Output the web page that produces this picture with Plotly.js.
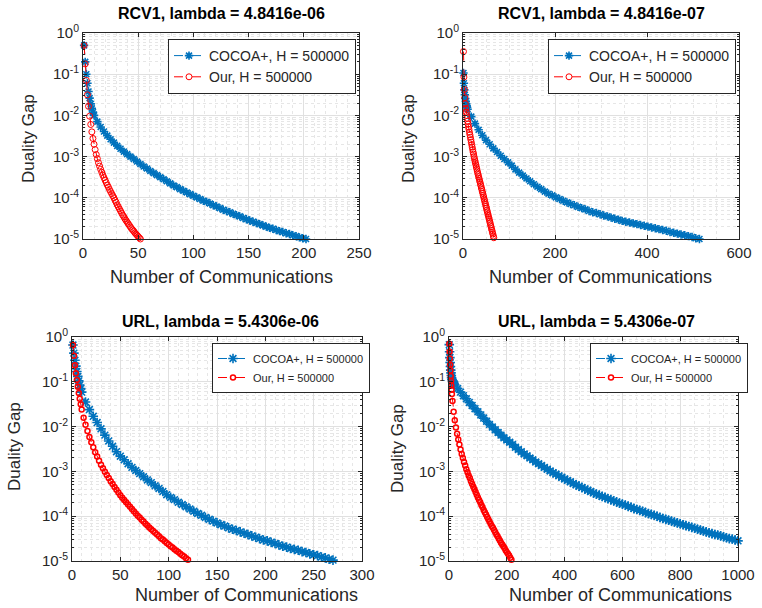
<!DOCTYPE html>
<html><head><meta charset="utf-8">
<script src="https://cdn.plot.ly/plotly-3.0.1.min.js"></script>
<style>html,body{margin:0;padding:0;background:#fff}#chart{width:762px;height:608px}</style>
</head><body><div id="chart"></div>
<script>
// helper: communication-round indices (the x grid the values were read on)
function seq(a, b, s) { const r = []; for (let v = a; v <= b + 1e-9; v += s) r.push(v); return r; }

// ---- Series names / titles ----
const seriesNames = ['COCOA+, H = 500000', 'Our, H = 500000'];
const panelTitles = ['RCV1, lambda = 4.8416e-06', 'RCV1, lambda = 4.8416e-07',
                     'URL, lambda = 5.4306e-06', 'URL, lambda = 5.4306e-07'];
const xTitle = 'Number of Communications';
const yTitle = 'Duality Gap';

// ---- Data: duality gap, stored as log10(gap) ----
// Panel 1: RCV1, lambda = 4.8416e-06
const rcv1a_cocoa_x = [...seq(1, 10, 1), ...seq(13, 202, 3)];
const rcv1a_cocoa_log10 = [-0.30,-0.70,-1.00,-1.22,-1.42,-1.58,-1.72,-1.83,-1.92,-2.00,
 -2.15,-2.28,-2.39,-2.49,-2.58,-2.66,-2.74,-2.81,-2.88,-2.94,-3.00,
 -3.06,-3.12,-3.18,-3.24,-3.29,-3.35,-3.40,-3.45,-3.50,-3.55,-3.60,-3.65,-3.70,-3.74,-3.79,-3.83,-3.87,-3.91,
 -3.95,-3.99,-4.03,-4.07,-4.10,-4.14,-4.18,-4.21,-4.25,-4.29,-4.32,-4.35,-4.39,-4.42,-4.45,-4.49,-4.52,-4.55,
 -4.58,-4.61,-4.64,-4.67,-4.70,-4.73,-4.75,-4.78,-4.81,-4.83,-4.86,-4.88,-4.91,-4.93,-4.96,-4.98,-5.00];
const rcv1a_our_x = seq(1, 52, 1);
const rcv1a_our_log10 = [-0.30,-0.75,-1.15,-1.50,-1.78,-2.02,-2.22,-2.40,-2.56,-2.70,
 -2.83,-2.95,-3.05,-3.15,-3.23,-3.31,-3.38,-3.45,-3.51,-3.57,
 -3.63,-3.69,-3.74,-3.80,-3.85,-3.90,-3.95,-4.00,-4.06,-4.11,
 -4.17,-4.22,-4.27,-4.32,-4.37,-4.42,-4.46,-4.51,-4.55,-4.59,
 -4.63,-4.67,-4.71,-4.75,-4.78,-4.81,-4.85,-4.88,-4.91,-4.94,
 -4.97,-5.00];

// Panel 2: RCV1, lambda = 4.8416e-07
const rcv1b_cocoa_x = [...seq(1, 10, 1), ...seq(18, 514, 8)];
const rcv1b_cocoa_log10 = [-0.97,-1.22,-1.38,-1.50,-1.59,-1.66,-1.72,-1.77,-1.81,-1.85,
 -2.03,-2.20,-2.35,-2.48,-2.60,-2.70,-2.80,-2.89,-2.98,-3.06,
 -3.14,-3.22,-3.31,-3.39,-3.46,-3.53,-3.60,-3.67,-3.73,-3.79,
 -3.85,-3.90,-3.94,-3.99,-4.03,-4.07,-4.11,-4.15,-4.18,-4.22,
 -4.25,-4.28,-4.32,-4.35,-4.37,-4.40,-4.43,-4.45,-4.48,-4.51,
 -4.53,-4.56,-4.58,-4.60,-4.62,-4.64,-4.66,-4.68,-4.70,-4.72,
 -4.74,-4.76,-4.78,-4.80,-4.83,-4.85,-4.87,-4.89,-4.91,-4.93,
 -4.95,-4.98,-5.00];
const rcv1b_our_x = seq(1, 67, 1);
const rcv1b_our_log10 = [-0.45,-1.07,-1.37,-1.57,-1.72,-1.83,-1.92,-2.00,-2.07,-2.14,
 -2.21,-2.28,-2.34,-2.41,-2.47,-2.53,-2.59,-2.65,-2.71,-2.77,
 -2.83,-2.89,-2.94,-3.00,-3.05,-3.10,-3.15,-3.20,-3.25,-3.30,
 -3.35,-3.40,-3.44,-3.49,-3.53,-3.58,-3.62,-3.67,-3.71,-3.76,
 -3.80,-3.85,-3.89,-3.94,-3.98,-4.03,-4.07,-4.12,-4.16,-4.21,
 -4.25,-4.30,-4.34,-4.39,-4.43,-4.48,-4.52,-4.57,-4.61,-4.66,
 -4.70,-4.75,-4.79,-4.84,-4.88,-4.93,-4.97];

// Panel 3: URL, lambda = 5.4306e-06
const urla_cocoa_x = [...seq(1, 9, 1), ...seq(10, 270, 4)];
const urla_cocoa_log10 = [-0.18,-0.36,-0.52,-0.65,-0.77,-0.88,-0.98,-1.07,-1.15,
 -1.23,-1.45,-1.62,-1.77,-1.91,-2.05,-2.19,-2.32,-2.44,-2.56,
 -2.66,-2.74,-2.83,-2.91,-2.98,-3.05,-3.12,-3.19,-3.25,-3.32,
 -3.38,-3.45,-3.52,-3.58,-3.63,-3.69,-3.74,-3.79,-3.84,-3.89,
 -3.94,-3.98,-4.03,-4.07,-4.11,-4.15,-4.19,-4.22,-4.26,-4.29,
 -4.32,-4.35,-4.38,-4.41,-4.44,-4.47,-4.50,-4.53,-4.55,-4.58,
 -4.61,-4.64,-4.67,-4.69,-4.72,-4.74,-4.76,-4.79,-4.81,-4.84,
 -4.86,-4.88,-4.91,-4.93,-4.96,-4.98];
const urla_our_x = [...seq(1, 10, 1), ...seq(12, 120, 2)];
const urla_our_log10 = [-0.18,-0.42,-0.63,-0.81,-0.96,-1.11,-1.25,-1.38,-1.50,-1.62,
 -1.80,-1.96,-2.10,-2.23,-2.35,-2.46,-2.57,-2.67,-2.76,-2.85,
 -2.93,-3.01,-3.08,-3.15,-3.22,-3.28,-3.35,-3.41,-3.47,-3.53,
 -3.59,-3.64,-3.69,-3.74,-3.79,-3.84,-3.89,-3.94,-3.99,-4.03,
 -4.08,-4.12,-4.17,-4.21,-4.25,-4.29,-4.33,-4.37,-4.41,-4.45,
 -4.49,-4.52,-4.56,-4.60,-4.63,-4.67,-4.70,-4.74,-4.77,-4.80,
 -4.84,-4.87,-4.90,-4.94,-4.97];

// Panel 4: URL, lambda = 5.4306e-07
const urlb_cocoa_x = [...seq(1, 10, 1), ...seq(12, 18, 2), ...seq(20, 1000, 10)];
const urlb_cocoa_log10 = [-0.17,-0.33,-0.46,-0.57,-0.66,-0.74,-0.80,-0.86,-0.91,-0.95,
 -0.99,-1.01,-1.03,-1.05,
 -1.07,-1.15,-1.23,-1.31,-1.38,-1.46,-1.53,-1.60,-1.67,-1.74,
 -1.81,-1.88,-1.95,-2.01,-2.07,-2.13,-2.19,-2.25,-2.30,-2.35,
 -2.40,-2.46,-2.51,-2.56,-2.61,-2.65,-2.70,-2.74,-2.79,-2.83,
 -2.87,-2.91,-2.95,-2.99,-3.03,-3.06,-3.10,-3.13,-3.17,-3.20,
 -3.23,-3.27,-3.30,-3.33,-3.36,-3.39,-3.42,-3.45,-3.48,-3.51,
 -3.53,-3.56,-3.58,-3.61,-3.63,-3.66,-3.68,-3.71,-3.73,-3.75,
 -3.78,-3.80,-3.83,-3.85,-3.87,-3.89,-3.92,-3.94,-3.96,-3.98,
 -4.00,-4.03,-4.05,-4.07,-4.09,-4.11,-4.13,-4.15,-4.17,-4.19,
 -4.21,-4.23,-4.25,-4.27,-4.29,-4.31,-4.33,-4.35,-4.37,-4.39,
 -4.41,-4.42,-4.44,-4.46,-4.48,-4.50,-4.51,-4.53,-4.55];
const urlb_our_x = [...seq(1, 10, 1), ...seq(12, 216, 4)];
const urlb_our_log10 = [-0.15,-0.33,-0.48,-0.62,-0.75,-0.87,-0.98,-1.08,-1.18,-1.27,
 -1.43,-1.67,-1.86,-2.02,-2.16,-2.29,-2.40,-2.51,-2.61,-2.70,
 -2.79,-2.87,-2.95,-3.02,-3.09,-3.15,-3.22,-3.28,-3.34,-3.40,
 -3.46,-3.52,-3.58,-3.64,-3.69,-3.75,-3.80,-3.86,-3.91,-3.96,
 -4.02,-4.07,-4.12,-4.17,-4.22,-4.26,-4.31,-4.36,-4.41,-4.45,
 -4.50,-4.54,-4.59,-4.63,-4.67,-4.71,-4.76,-4.80,-4.84,-4.88,
 -4.93,-4.97];

// ---- Axis tick labels ----
const yTickExp = [-5, -4, -3, -2, -1, 0];
const yTickText = yTickExp.map(e => '10<sup>' + e + '</sup>');
const xRanges = [[0, 250], [0, 600], [0, 300], [0, 1000]];
const xMajor = [50, 200, 50, 200];
const xMinor = [10, 50, 10, 50];

// ---- Layout geometry (pixels) ----
const W = 762, H = 608;
const FONT = 'Liberation Sans, Arial, Helvetica, sans-serif';
const TXT = '#262626';
const BLUE = '#0072BD', RED = '#FF0000';
const boxes = [ // [left, right, top, bottom]
  [83, 359, 33, 239], [463, 739, 33, 239],
  [72, 362, 337, 561], [449, 738, 337, 561]];
const px = x => x / W, py = y => 1 - y / H;

const yMinorVals = [];
for (let e = -5; e < 0; e++) for (let m = 2; m <= 9; m++) yMinorVals.push(m * Math.pow(10, e));

const layout = {
  width: W, height: H, margin: {l: 0, r: 0, t: 0, b: 0},
  paper_bgcolor: '#fff', plot_bgcolor: '#fff', showlegend: true,
  font: {family: FONT, color: TXT},
  annotations: []
};

boxes.forEach((b, i) => {
  const k = i === 0 ? '' : String(i + 1);
  layout['xaxis' + k] = {
    domain: [px(b[0]), px(b[1])], anchor: 'y' + k, range: xRanges[i],
    tickmode: 'linear', tick0: 0, dtick: xMajor[i],
    ticks: 'inside', ticklen: 4, tickcolor: TXT, tickwidth: 1,
    showline: true, linecolor: TXT, linewidth: 1, mirror: 'ticks',
    showgrid: true, gridcolor: '#e0e0e0', gridwidth: 1, zeroline: false,
    tickfont: {family: FONT, size: 15, color: TXT},
    minor: {dtick: xMinor[i], tick0: 0, showgrid: true, gridcolor: '#e6e6e6', griddash: 'dot', gridwidth: 1, ticks: ''},
    fixedrange: true
  };
  layout['yaxis' + k] = {
    domain: [py(b[3]), py(b[2])], anchor: 'x' + k, type: 'log', range: [-5, 0],
    tickmode: 'array', tickvals: yTickExp.map(e => Math.pow(10, e)), ticktext: yTickText,
    ticks: 'inside', ticklen: 4, tickcolor: TXT, tickwidth: 1,
    showline: true, linecolor: TXT, linewidth: 1, mirror: 'ticks',
    showgrid: true, gridcolor: '#e0e0e0', gridwidth: 1, zeroline: false,
    tickfont: {family: FONT, size: 15, color: TXT},
    minor: {tickmode: 'array', tickvals: yMinorVals, showgrid: true, gridcolor: '#e6e6e6', griddash: 'dot', gridwidth: 1,
            ticks: 'inside', ticklen: 2, tickcolor: TXT},
    fixedrange: true
  };
});

// titles and axis titles
const titlePos = [[221, 14], [601, 14], [220, 321], [596, 321]];
const xtPos = [[221, 277], [600, 277], [246, 595], [620, 595]];
const ytPos = [[28, 139], [408, 139], [14, 447], [397, 449]];
for (let i = 0; i < 4; i++) {
  layout.annotations.push({xref: 'paper', yref: 'paper', x: px(titlePos[i][0]), y: py(titlePos[i][1]),
    xanchor: 'center', yanchor: 'middle', showarrow: false, text: '<b>' + panelTitles[i] + '</b>',
    font: {family: FONT, size: 16, color: '#000'}});
  layout.annotations.push({xref: 'paper', yref: 'paper', x: px(xtPos[i][0]), y: py(xtPos[i][1]),
    xanchor: 'center', yanchor: 'middle', showarrow: false, text: xTitle,
    font: {family: FONT, size: 18, color: TXT}});
  layout.annotations.push({xref: 'paper', yref: 'paper', x: px(ytPos[i][0]), y: py(ytPos[i][1]),
    xanchor: 'center', yanchor: 'middle', showarrow: false, text: yTitle, textangle: -90,
    font: {family: FONT, size: 17, color: TXT}});
}

// legends
const legPos = [[168, 39, 14], [548, 39, 14], [212, 343, 11], [590, 343, 11]];
legPos.forEach((p, i) => {
  const k = i === 0 ? 'legend' : 'legend' + (i + 1);
  layout[k] = {x: px(p[0]), y: py(p[1]), xanchor: 'left', yanchor: 'top',
    bgcolor: '#fff', bordercolor: TXT, borderwidth: 1,
    font: {family: FONT, size: p[2], color: TXT}, tracegroupgap: 0, itemclick: false};
});

const data = [];
const sets = [
  [rcv1a_cocoa_x, rcv1a_cocoa_log10, rcv1a_our_x, rcv1a_our_log10],
  [rcv1b_cocoa_x, rcv1b_cocoa_log10, rcv1b_our_x, rcv1b_our_log10],
  [urla_cocoa_x, urla_cocoa_log10, urla_our_x, urla_our_log10],
  [urlb_cocoa_x, urlb_cocoa_log10, urlb_our_x, urlb_our_log10]];
sets.forEach((s, i) => {
  const k = i === 0 ? '' : String(i + 1);
  const lg = i === 0 ? 'legend' : 'legend' + (i + 1);
  const bottom = i >= 2;
  data.push({type: 'scatter', mode: 'lines+markers', x: s[0], y: s[1].map(v => Math.pow(10, v)),
    xaxis: 'x' + k, yaxis: 'y' + k, name: seriesNames[0], legend: lg, cliponaxis: false,
    line: {color: BLUE, dash: 'dash', width: 1},
    marker: {symbol: 'asterisk-open', size: bottom ? 8 : 7, color: BLUE, line: {color: BLUE, width: 1.6}}});
  data.push({type: 'scatter', mode: 'lines+markers', x: s[2], y: s[3].map(v => Math.pow(10, v)),
    xaxis: 'x' + k, yaxis: 'y' + k, name: seriesNames[1], legend: lg, cliponaxis: false,
    line: {color: RED, dash: 'dash', width: 1},
    marker: {symbol: 'circle-open', size: bottom ? 5 : 6, color: RED, line: {color: RED, width: bottom ? 1.5 : 1}}});
});

Plotly.newPlot('chart', data, layout, {staticPlot: true, displayModeBar: false});
</script></body></html>
